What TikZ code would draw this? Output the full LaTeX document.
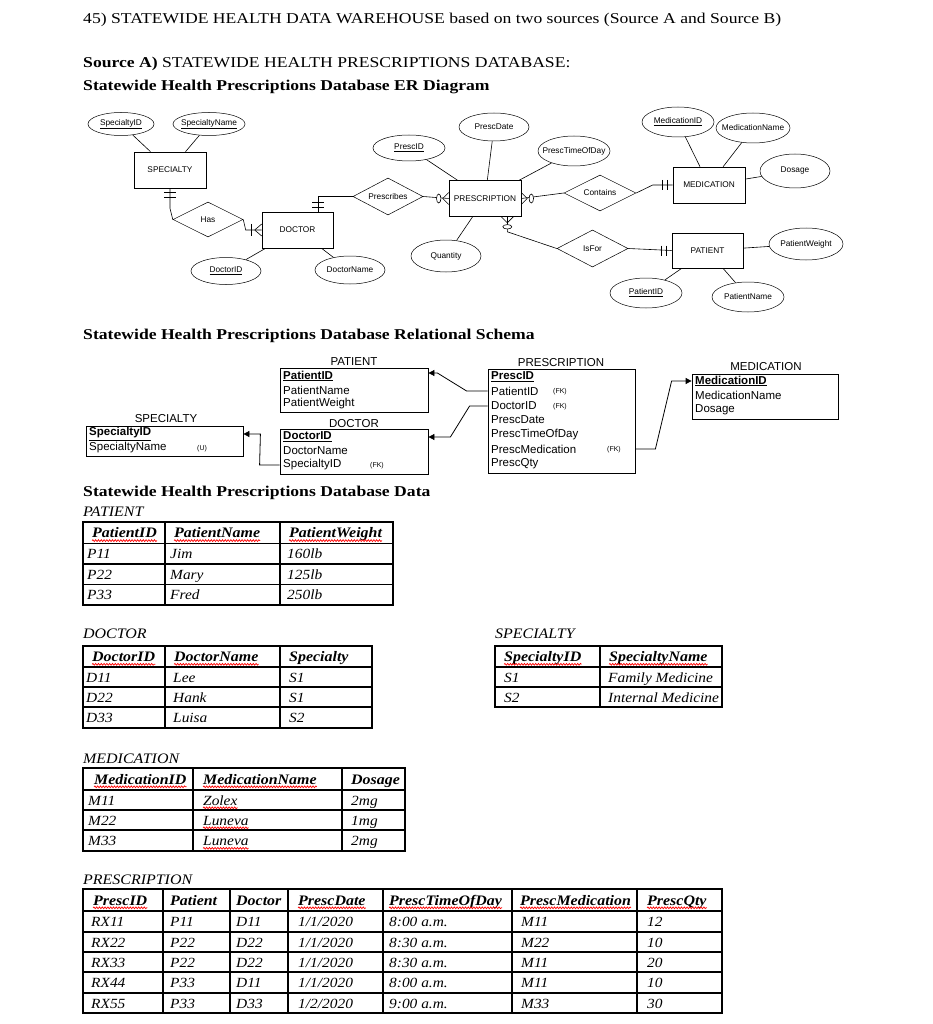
\documentclass[tikz,border=0pt]{standalone}
\usepackage{fontspec}
\setmainfont{Liberation Serif}[FakeStretch=1.1]
\newfontfamily\headf{Liberation Serif}[FakeStretch=1.175]
\newfontfamily\arialf{Liberation Sans}
\usetikzlibrary{shapes.geometric,arrows.meta,calc,decorations.pathmorphing}
\newcommand\erf{\arialf\fontsize{8.3}{9.5}\selectfont}
\newcommand\rsf{\arialf\fontsize{11.5}{13}\selectfont}
\newcommand\fkf{\arialf\fontsize{7}{8}\selectfont}
\newcommand\hdf{\headf\fontsize{15}{18}\selectfont}
\newcommand\lblf{\fontsize{14.5}{17}\selectfont\itshape}
\newcommand\tbf{\fontsize{14}{17}\selectfont\itshape}
\newcommand\thf{\fontsize{14.5}{17}\selectfont\itshape\bfseries}
\newcommand\mb[1]{\makebox[0pt]{#1}}
\newcommand\wcell[5]{\node[cell,font=#5] (#1) at (#2,#3) {#4}; \draw[wavy] ([yshift=-2.8pt]#1.base west) -- ([yshift=-2.8pt]#1.base east);}
\begin{document}
\begin{tikzpicture}[x=1pt,y=-1pt,
 ent/.style={draw,line width=0.6pt,inner sep=0,minimum width=72pt,minimum height=36pt,font=\erf},
 att/.style={draw,ellipse,line width=0.5pt,inner sep=0,font=\erf},
 rel/.style={draw,diamond,line width=0.5pt,inner sep=0,font=\erf},
 erl/.style={line width=0.6pt},
 hd/.style={anchor=west,inner sep=0,font=\hdf},
 lbl/.style={anchor=west,inner sep=0,font=\lblf},
 rs/.style={anchor=west,inner sep=0,font=\rsf},
 rlab/.style={inner sep=0,font=\rsf},
 rbox/.style={draw,line width=0.8pt,inner sep=0},
 cell/.style={anchor=base west,inner sep=0,font=\tbf},
 tbl/.style={line width=1.4pt},
 wavy/.style={red,line width=0.7pt,decorate,decoration={snake,amplitude=0.9pt,segment length=2.8pt}},
 fk/.style={anchor=west,inner sep=0,font=\fkf},
 rarrow/.style={line width=0.8pt,-{Triangle[length=6pt,width=6pt]}}]
\useasboundingbox (0,0) rectangle (933,1024);
\fill[white] (0,0) rectangle (933,1024);

% ---------- headings
\node[hd] (title) at (83,20) {45) STATEWIDE HEALTH DATA WAREHOUSE based on two sources (Source A and Source B)};
\node[hd] (srcA) at (83,64) {\textbf{Source A)} STATEWIDE HEALTH PRESCRIPTIONS DATABASE:};
\node[hd] (erh) at (83,87) {\textbf{Statewide Health Prescriptions Database ER Diagram}};
\node[hd] (rsh) at (83,336) {\textbf{Statewide Health Prescriptions Database Relational Schema}};
\node[hd] (dth) at (83,493) {\textbf{Statewide Health Prescriptions Database Data}};

% ---------- ER diagram
\node[att,minimum width=66,minimum height=23] (spid) at (121,124) {\mb{\underline{SpecialtyID}}};
\node[att,minimum width=72,minimum height=23] (spname) at (209,124) {\mb{\underline{SpecialtyName}}};
\node[ent] (specialty) at (170,170) {SPECIALTY};
\node[rel,minimum width=70,minimum height=35] (has) at (208,219.5) {\mb{Has}};
\node[ent,minimum width=71] (doctor) at (297.5,230) {DOCTOR};
\node[att,minimum width=70,minimum height=27] (docid) at (226,271) {\mb{\underline{DoctorID}}};
\node[att,minimum width=70,minimum height=28] (docname) at (350,270) {\mb{DoctorName}};
\node[rel,minimum width=70,minimum height=37] (prescribes) at (388,196.5) {\mb{Prescribes}};
\node[ent] (prescription) at (485,198.5) {PRESCRIPTION};
\node[att,minimum width=72,minimum height=26] (prescid) at (409,148) {\mb{\underline{PrescID}}};
\node[att,minimum width=70,minimum height=28] (prescdate) at (494,127) {\mb{PrescDate}};
\node[att,minimum width=72,minimum height=30] (presctime) at (574,151) {\mb{PrescTimeOfDay}};
\node[att,minimum width=70,minimum height=32] (quantity) at (446,256) {\mb{Quantity}};
\node[rel,minimum width=72,minimum height=36] (contains) at (600,193) {\mb{Contains}};
\node[ent] (medication) at (709,185) {MEDICATION};
\node[att,minimum width=72,minimum height=30] (medid) at (678,122) {\mb{\underline{MedicationID}}};
\node[att,minimum width=74,minimum height=30] (medname) at (753,128) {\mb{MedicationName}};
\node[att,minimum width=70,minimum height=34] (dosage) at (795,171) {\mb{Dosage}};
\node[rel,minimum width=71,minimum height=37] (isfor) at (592.5,248.5) {\mb{IsFor}};
\node[ent,minimum width=71,minimum height=35] (patient) at (707.5,250.5) {PATIENT};
\node[att,minimum width=74,minimum height=32] (patweight) at (806,244) {\mb{PatientWeight}};
\node[att,minimum width=72,minimum height=30] (patid) at (646,293) {\mb{\underline{PatientID}}};
\node[att,minimum width=72,minimum height=30] (patname) at (748,297) {\mb{PatientName}};

\foreach \a/\e in {spid/specialty,spname/specialty,docid/doctor,docname/doctor,prescid/prescription,prescdate/prescription,presctime/prescription,quantity/prescription,medid/medication,medname/medication,dosage/medication,patweight/patient,patid/patient,patname/patient}
  \draw[erl] (\a) -- (\e);

% SPECIALTY - Has (one and only one)
\draw[erl] (specialty.south) -- ++(0,20) -- (has.west);
\draw[erl] ($(specialty.south)+(-6,4)$) -- ++(12,0) ($(specialty.south)+(-6,9)$) -- ++(12,0);
% Has - DOCTOR (one or many)
\draw[erl] (has.east) -- ($(doctor.west)+(-16,0)$) -- (doctor.west);
\draw[erl] ($(doctor.west)+(-10,-6)$) -- ++(0,12);
\draw[erl] ($(doctor.west)+(-7,0)$) -- ($(doctor.west)+(0,-6)$) ($(doctor.west)+(-7,0)$) -- ($(doctor.west)+(0,6)$);
% DOCTOR - Prescribes
\coordinate (dtop) at ($(doctor.north east)+(-15,0)$);
\draw[erl] (dtop) -- (dtop |- prescribes.west) -- (prescribes.west);
\draw[erl] ($(dtop)+(-6,-4)$) -- ++(12,0) ($(dtop)+(-6,-9)$) -- ++(12,0);
% Prescribes - PRESCRIPTION (zero or many)
\draw[erl] (prescribes.east) -- (prescription.west);
\draw[erl,fill=white] ($(prescription.west)+(-10,0)$) ellipse [x radius=2.2,y radius=4.5];
\draw[erl] ($(prescription.west)+(-6,0)$) -- ($(prescription.west)+(0,-6)$) ($(prescription.west)+(-6,0)$) -- ($(prescription.west)+(0,6)$);
% PRESCRIPTION - Contains
\draw[erl] (prescription.east) -- (contains.west);
\draw[erl,fill=white] ($(prescription.east)+(10,0)$) ellipse [x radius=2.2,y radius=4.5];
\draw[erl] ($(prescription.east)+(6,0)$) -- ($(prescription.east)+(0,-6)$) ($(prescription.east)+(6,0)$) -- ($(prescription.east)+(0,6)$);
% Contains - MEDICATION
\draw[erl] (contains.east) -- ($(medication.west)+(-20,0)$) -- (medication.west);
\draw[erl] ($(medication.west)+(-10,-5)$) -- ++(0,10) ($(medication.west)+(-5,-5)$) -- ++(0,10);
% PRESCRIPTION - IsFor
\coordinate (pbot) at ($(prescription.south east)+(-14,0)$);
\draw[erl] (pbot) -- ($(pbot)+(0,8)$);
\draw[erl] ($(pbot)+(0,12)$) -- ($(pbot)+(0,15)$) -- (isfor.west);
\draw[erl,fill=white] ($(pbot)+(0,10)$) ellipse [x radius=4.5,y radius=2.2];
\draw[erl] ($(pbot)+(0,6)$) -- ($(pbot)+(-6,0)$) ($(pbot)+(0,6)$) -- ($(pbot)+(6,0)$);
% IsFor - PATIENT
\draw[erl] (isfor.east) -- (patient.west);
\draw[erl] ($(patient.west)+(-10,-5)$) -- ++(0,10) ($(patient.west)+(-5,-5)$) -- ++(0,10);

% ---------- Relational schema
\node[rlab] (rpatT) at (354,362) {PATIENT};
\node[rbox,minimum width=148,minimum height=44] (rpat) at (354,390) {};
\node[rs] (ra1) at (283,376) {\textbf{\underline{PatientID}}};
\node[rs] (ra2) at (283,390) {PatientName};
\node[rs] (ra3) at (283,404) {PatientWeight};

\node[rlab] (rdocT) at (354,424) {DOCTOR};
\node[rbox,minimum width=148,minimum height=45] (rdoc) at (354,451.5) {};
\node[rs] (rd1) at (283,437) {\textbf{\underline{DoctorID}}};
\node[rs] (rd2) at (283,451) {DoctorName};
\node[rs] (rd3) at (283,465) {SpecialtyID};
\node[fk] (rdfk) at (370,466) {(FK)};

\node[rlab] (rspecT) at (166,418.5) {SPECIALTY};
\node[rbox,minimum width=157,minimum height=30] (rspec) at (164.5,441) {};
\node[rs] (rs1) at (89,434) {\textbf{\underline{SpecialtyID}}};
\node[rs] (rs2) at (89,448) {SpecialtyName};
\node[fk] (rsu) at (197,449) {(U)};

\node[rlab] (rprescT) at (561,363) {PRESCRIPTION};
\node[rbox,minimum width=147,minimum height=104] (rpresc) at (561.5,421) {};
\node[rs] (rp1) at (491,377) {\textbf{\underline{PrescID}}};
\node[rs] (rp2) at (491,391) {PatientID};
\node[rs] (rp3) at (491,406) {DoctorID};
\node[rs] (rp4) at (491,420) {PrescDate};
\node[rs] (rp5) at (491,435) {PrescTimeOfDay};
\node[rs] (rp6) at (491,449) {PrescMedication};
\node[rs] (rp7) at (491,464) {PrescQty};
\node[fk] (rpfk1) at (553,392) {(FK)};
\node[fk] (rpfk2) at (553,407) {(FK)};
\node[fk] (rpfk3) at (607,450) {(FK)};

\node[rlab] (rmedT) at (766,367) {MEDICATION};
\node[rbox,minimum width=146,minimum height=45] (rmed) at (765,396.5) {};
\node[rs] (rm1) at (695,381) {\textbf{\underline{MedicationID}}};
\node[rs] (rm2) at (695,395) {MedicationName};
\node[rs] (rm3) at (695,410) {Dosage};

\draw[rarrow] (rpresc.west |- rp2) -- ++(-21,0) -- ($(rpat.east |- ra1)+(9,-3)$) -- ($(rpat.east |- ra1)+(0,-3)$);
\draw[rarrow] (rpresc.west |- rp3) -- ++(-18,0) -- ($(rdoc.east |- rd1)+(22,0)$) -- (rdoc.east |- rd1);
\draw[rarrow] (rdoc.west |- rd3) -- ++(-20,0) -- ($(rspec.east |- rs1)+(17,0)$) -- (rspec.east |- rs1);
\draw[rarrow] (rpresc.east |- rp6) -- ++(20,0) -- ($(rmed.west |- rm1)+(-20,0)$) -- (rmed.west |- rm1);

% ---------- Data tables
% PATIENT
\node[lbl] (tpatL) at (83,512) {PATIENT};
\draw[tbl] (83,522) rectangle (393,605);
\foreach \x in {165,280} \draw[tbl] (\x,522) -- (\x,605);
\foreach \y in {543.5,564,584.5} \draw[tbl] (83,\y) -- (393,\y);
\wcell{tph1}{92}{537.8}{PatientID}{\thf}
\wcell{tph2}{174}{537.8}{PatientName}{\thf}
\wcell{tph3}{289}{537.8}{PatientWeight}{\thf}
\foreach \r/\y/\a/\b/\c in {1/558.8/P11/Jim/160lb,2/579.3/P22/Mary/125lb,3/599.8/P33/Fred/250lb}{
  \node[cell] (tp\r a) at (87,\y) {\a};
  \node[cell] (tp\r b) at (170,\y) {\b};
  \node[cell] (tp\r c) at (287,\y) {\c};
}

% DOCTOR
\node[lbl] (tdocL) at (83,634) {DOCTOR};
\draw[tbl] (83,646) rectangle (372,728);
\foreach \x in {165,280} \draw[tbl] (\x,646) -- (\x,728);
\foreach \y in {667,687,707} \draw[tbl] (83,\y) -- (372,\y);
\wcell{tdh1}{92}{661.5}{DoctorID}{\thf}
\wcell{tdh2}{174}{661.5}{DoctorName}{\thf}
\node[cell,font=\thf] (tdh3) at (289,661.5) {Specialty};
\foreach \r/\y/\a/\b/\c in {1/682/D11/Lee/S1,2/702/D22/Hank/S1,3/722.5/D33/Luisa/S2}{
  \node[cell] (td\r a) at (86,\y) {\a};
  \node[cell] (td\r b) at (173,\y) {\b};
  \node[cell] (td\r c) at (289,\y) {\c};
}

% SPECIALTY
\node[lbl] (tspL) at (495,634) {SPECIALTY};
\draw[tbl] (495,646) rectangle (722,707);
\draw[tbl] (600,646) -- (600,707);
\foreach \y in {667,687} \draw[tbl] (495,\y) -- (722,\y);
\wcell{tsh1}{504}{661.5}{SpecialtyID}{\thf}
\wcell{tsh2}{609}{661.5}{SpecialtyName}{\thf}
\foreach \r/\y/\a/\b in {1/682/S1/Family Medicine,2/702/S2/Internal Medicine}{
  \node[cell] (ts\r a) at (504,\y) {\a};
  \node[cell] (ts\r b) at (608,\y) {\b};
}

% MEDICATION
\node[lbl] (tmedL) at (83,759) {MEDICATION};
\draw[tbl] (83,768) rectangle (405,851);
\foreach \x in {193,342} \draw[tbl] (\x,768) -- (\x,851);
\foreach \y in {790,810,830} \draw[tbl] (83,\y) -- (405,\y);
\wcell{tmh1}{94}{784}{MedicationID}{\thf}
\wcell{tmh2}{203}{784}{MedicationName}{\thf}
\node[cell,font=\thf] (tmh3) at (351,784) {Dosage};
\foreach \r/\y/\a/\b/\c in {1/805/M11/Zolex/2mg,2/825/M22/Luneva/1mg,3/845.5/M33/Luneva/2mg}{
  \node[cell] (tm\r a) at (88,\y) {\a};
  \wcell{tm\r b}{203}{\y}{\b}{\tbf}
  \node[cell] (tm\r c) at (351,\y) {\c};
}

% PRESCRIPTION
\node[lbl] (tprL) at (83,880) {PRESCRIPTION};
\draw[tbl] (83,889) rectangle (722,1013);
\foreach \x in {163,230,288,383,512,637} \draw[tbl] (\x,889) -- (\x,1013);
\foreach \y in {911,932,952,972,993} \draw[tbl] (83,\y) -- (722,\y);
\wcell{trh1}{93}{905}{PrescID}{\thf}
\node[cell,font=\thf] (trh2) at (170,905) {Patient};
\node[cell,font=\thf] (trh3) at (236,905) {Doctor};
\wcell{trh4}{298}{905}{PrescDate}{\thf}
\wcell{trh5}{389}{905}{PrescTimeOfDay}{\thf}
\wcell{trh6}{520}{905}{PrescMedication}{\thf}
\wcell{trh7}{647}{905}{PrescQty}{\thf}
\foreach \r/\y/\a/\b/\c/\d/\e/\f/\g in {1/926.5/RX11/P11/D11/1\slash 1\slash 2020/8:00 a.m./M11/12,
  2/947/RX22/P22/D22/1\slash 1\slash 2020/8:30 a.m./M22/10,
  3/967/RX33/P22/D22/1\slash 1\slash 2020/8:30 a.m./M11/20,
  4/987.5/RX44/P33/D11/1\slash 1\slash 2020/8:00 a.m./M11/10,
  5/1008/RX55/P33/D33/1\slash 2\slash 2020/9:00 a.m./M33/30}{
  \node[cell] (tr\r a) at (91,\y) {\a};
  \node[cell] (tr\r b) at (170,\y) {\b};
  \node[cell] (tr\r c) at (236,\y) {\c};
  \node[cell] (tr\r d) at (298,\y) {\d};
  \node[cell] (tr\r e) at (389,\y) {\e};
  \node[cell] (tr\r f) at (521,\y) {\f};
  \node[cell] (tr\r g) at (647,\y) {\g};
}
\end{tikzpicture}
\end{document}
